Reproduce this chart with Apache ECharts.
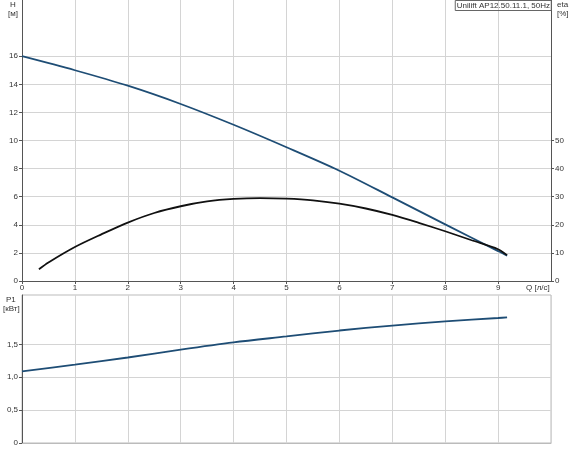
<!DOCTYPE html>
<html>
<head>
<meta charset="utf-8">
<script src="https://cdn.jsdelivr.net/npm/echarts@6/dist/echarts.min.js"></script>
<style>
  html, body { margin: 0; padding: 0; background: #fff; }
  #chart { width: 570px; height: 450px; }
</style>
</head>
<body>
<div id="chart"></div>
<script>
// Q-H curve (Q in l/s, H in m)
var qHead = [0, 1, 2, 3, 4, 5, 6, 7, 8, 9, 9.17];
var headValues = [16, 15.0, 13.9, 12.6, 11.12, 9.52, 7.85, 5.95, 4.03, 2.13, 1.8];

// efficiency curve (eta in %)
var qEta = [0.32, 0.5, 1, 1.5, 2, 2.5, 3, 3.5, 4, 4.5, 5, 5.5, 6, 6.5, 7, 7.5, 8, 8.5, 9, 9.17];
var etaValues = [4.2, 6.6, 12.1, 16.6, 20.8, 24.2, 26.6, 28.3, 29.2, 29.5, 29.3, 28.7, 27.5, 25.8, 23.5, 20.7, 17.7, 14.5, 11.3, 9.2];

// power input P1 (kW)
var qPower = [0, 1, 2, 3, 4, 5, 6, 7, 8, 9, 9.17];
var powerValues = [1.09, 1.19, 1.3, 1.42, 1.53, 1.62, 1.71, 1.785, 1.85, 1.9, 1.91];

// tick labels shown on each value axis
var headTicks = [0, 2, 4, 6, 8, 10, 12, 14, 16];
var etaTicks = [0, 10, 20, 30, 40, 50];
var powerTicks = [0, 0.5, 1, 1.5];
var qTicks = [0, 1, 2, 3, 4, 5, 6, 7, 8, 9];

var titleText = "Unilift AP12.50.11.1, 50Hz";

function pairs(xs, ys) {
  return xs.map(function (x, i) { return [x, ys[i]]; });
}

var font = "Liberation Sans";
var labelColor = "#333";
var gridColor = "#d4d4d4";
var axisColor = "#555";

var chart = echarts.init(document.getElementById("chart"));

chart.setOption({
  animation: false,
  textStyle: { fontFamily: font },
  title: {
    text: titleText,
    right: 18,
    top: 0,
    padding: [2, 2, 1, 2],
    borderColor: "#666",
    borderWidth: 1,
    textStyle: { fontSize: 8, fontWeight: "normal", color: labelColor, fontFamily: font }
  },
  grid: [
    { left: 22, right: 19, top: 0, height: 281 },
    { left: 22, right: 19, top: 295, height: 148, show: true, borderColor: "#bbb", borderWidth: 1 }
  ],
  xAxis: [
    {
      type: "value", gridIndex: 0, min: 0, max: 10, interval: 1,
      axisLine: { lineStyle: { color: axisColor, width: 1 } },
      axisTick: { show: true, length: 3, customValues: qTicks, lineStyle: { color: axisColor } },
      axisLabel: { fontSize: 8, color: labelColor, margin: 3, customValues: qTicks },
      splitLine: { show: true, lineStyle: { color: gridColor } }
    },
    {
      type: "value", gridIndex: 1, min: 0, max: 10, interval: 1,
      axisLine: { lineStyle: { color: "#bbb" } },
      axisTick: { show: false },
      axisLabel: { show: false },
      splitLine: { show: true, lineStyle: { color: gridColor } }
    }
  ],
  yAxis: [
    {
      type: "value", gridIndex: 0, min: 0, max: 20, interval: 2,
      axisLine: { show: true, lineStyle: { color: axisColor } },
      axisTick: { show: true, length: 3, customValues: headTicks, lineStyle: { color: axisColor } },
      axisLabel: { fontSize: 8, color: labelColor, margin: 4, customValues: headTicks },
      splitLine: { show: true, lineStyle: { color: gridColor } }
    },
    {
      type: "value", gridIndex: 0, position: "right", min: 0, max: 100, interval: 10,
      axisLine: { show: true, lineStyle: { color: axisColor } },
      axisTick: { show: true, length: 3, customValues: etaTicks, lineStyle: { color: axisColor } },
      axisLabel: { fontSize: 8, color: labelColor, margin: 4, customValues: etaTicks },
      splitLine: { show: false }
    },
    {
      type: "value", gridIndex: 1, min: 0, max: 2.25, interval: 0.5,
      axisLine: { show: true, lineStyle: { color: axisColor } },
      axisTick: { show: true, length: 3, customValues: powerTicks, lineStyle: { color: axisColor } },
      axisLabel: {
        fontSize: 8, color: labelColor, margin: 4, customValues: powerTicks,
        formatter: function (v) {
          if (v === 0) return "0";
          return v.toFixed(1).replace(".", ",");
        }
      },
      splitLine: { show: true, lineStyle: { color: gridColor } }
    }
  ],
  graphic: [
    { type: "text", left: 10, top: 1, style: { text: "H", fontSize: 8, fill: labelColor, fontFamily: font } },
    { type: "text", left: 8, top: 10, style: { text: "[м]", fontSize: 8, fill: labelColor, fontFamily: font } },
    { type: "text", left: 557, top: 1, style: { text: "eta", fontSize: 8, fill: labelColor, fontFamily: font } },
    { type: "text", left: 557, top: 10, style: { text: "[%]", fontSize: 8, fill: labelColor, fontFamily: font } },
    { type: "text", left: 6, top: 296, style: { text: "P1", fontSize: 8, fill: labelColor, fontFamily: font } },
    { type: "text", left: 3, top: 305, style: { text: "[кВт]", fontSize: 8, fill: labelColor, fontFamily: font } },
    { type: "text", left: 526, top: 284, style: { text: "Q [л/с]", fontSize: 8, fill: labelColor, fontFamily: font } }
  ],
  series: [
    {
      name: "H", type: "line", xAxisIndex: 0, yAxisIndex: 0,
      data: pairs(qHead, headValues), smooth: 0.3, showSymbol: false,
      lineStyle: { color: "#1e4d75", width: 1.8 }
    },
    {
      name: "eta", type: "line", xAxisIndex: 0, yAxisIndex: 1,
      data: pairs(qEta, etaValues), smooth: 0.3, showSymbol: false,
      lineStyle: { color: "#111", width: 1.8 }
    },
    {
      name: "P1", type: "line", xAxisIndex: 1, yAxisIndex: 2,
      data: pairs(qPower, powerValues), smooth: 0.3, showSymbol: false,
      lineStyle: { color: "#1e4d75", width: 1.8 }
    }
  ]
});
</script>
</body>
</html>
